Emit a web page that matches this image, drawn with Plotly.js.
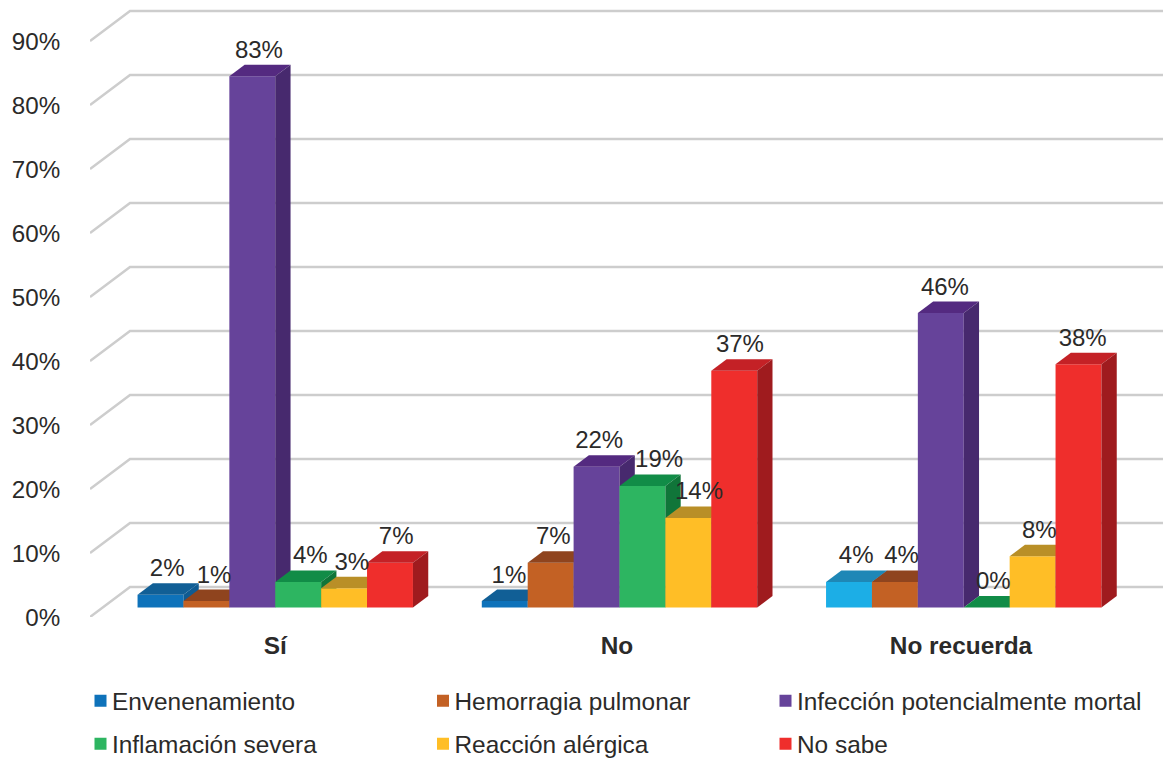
<!DOCTYPE html>
<html><head><meta charset="utf-8">
<script src="https://cdn.plot.ly/plotly-3.0.1.min.js"></script>
<style>html,body{margin:0;padding:0;background:#fff}#c{width:1163px;height:758px}</style></head>
<body><div id="c"></div>
<script>
const categories = ["Sí", "No", "No recuerda"];
const envenenamiento = [2, 1, 4];
const hemorragia = [1, 7, 4];
const infeccion = [83, 22, 46];
const inflamacion = [4, 19, 0];
const reaccion = [3, 14, 8];
const noSabe = [7, 37, 38];
const seriesNames = ["Envenenamiento", "Hemorragia pulmonar", "Infección potencialmente mortal", "Inflamación severa", "Reacción alérgica", "No sabe"];
const seriesValues = [envenenamiento, hemorragia, infeccion, inflamacion, reaccion, noSabe];
const frontColors = [["#0E72BA","#0E72BA","#1CAEE6"],["#C36124","#C36124","#C36124"],["#66439A","#66439A","#66439A"],["#2DB561","#2DB561","#2DB561"],["#FFBE26","#FFBE26","#FFBE26"],["#EF2E2C","#EF2E2C","#EF2E2C"]];
const topColors = [["#115F96","#115F96","#1E87B6"],["#8F441E","#8F441E","#8F441E"],["#542A80","#542A80","#542A80"],["#118C47","#118C47","#118C47"],["#B98F27","#B98F27","#B98F27"],["#C42126","#C42126","#C42126"]];
const sideColors = ["#0F5B92","#7D3B1A","#47296E","#107539","#A07B20","#9F1B1E"];
const yTicks = [0,10,20,30,40,50,60,70,80,90];
// hand-placed data label offsets (px) as in the reference
const labelNudge = [[-1,-3.5,-0.5],[0,-5,-1],[-1,-5,-3.5],[4.5,9,-1],[0,3,-1],[-1.5,-2,-3.5]];

// geometry: px per unit
const pxX = 344.25, pxY = 6.4, left = 90, right = 1163, floorPx = 617, topPx = 5, firstCenterPx = 275.25;
const xMin = (left-firstCenterPx)/pxX, xMax = (right-firstCenterPx)/pxX, yMax = (floorPx-topPx)/pxY;
const barW = 45.9/pxX, depthX = 15.3/pxX, depthY = 11.5/pxY, floorY = 9.5/pxY;
const wallX = 40/pxX, wallY = 30/pxY;
const textColor = "#2B2A29", font = "Liberation Sans, Arial, sans-serif";

const traces = [];
yTicks.forEach(t => traces.push({type:"scatter",mode:"lines",x:[xMin,xMin+wallX,xMax],y:[t,t+wallY,t+wallY],
  line:{color:"#CDCDCD",width:2.5},hoverinfo:"skip",showlegend:false,cliponaxis:false,xaxis:"x",yaxis:"y"}));

const labelX=[],labelY=[],labelT=[];
seriesValues.forEach((vals,s)=>{
  const xa="x"+(s+2), ya="y"+(s+2);
  const off = -3*barW + s*barW;
  traces.push({type:"bar",name:seriesNames[s],x:categories.map((_,i)=>i),y:vals,base:floorY,width:barW,offset:off,
    marker:{color:frontColors[s],line:{width:0}},xaxis:xa,yaxis:ya,legend:s===0?"legend":"legend"+(s+1),hoverinfo:"skip"});
  vals.forEach((v,i)=>{
    const xl=i+off,xr=xl+barW,t=floorY+v;
    traces.push({type:"scatter",mode:"lines",fill:"toself",fillcolor:topColors[s][i],line:{width:0,color:topColors[s][i]},
      x:[xl,xr,xr+depthX,xl+depthX,xl],y:[t,t,t+depthY,t+depthY,t],xaxis:xa,yaxis:ya,showlegend:false,hoverinfo:"skip"});
    traces.push({type:"scatter",mode:"lines",fill:"toself",fillcolor:sideColors[s],line:{width:0,color:sideColors[s]},
      x:[xr,xr+depthX,xr+depthX,xr,xr],y:[floorY,floorY+depthY,t+depthY,t,floorY],xaxis:xa,yaxis:ya,showlegend:false,hoverinfo:"skip"});
    labelX.push(xl+barW/2+depthX/2+labelNudge[s][i]/pxX);labelY.push(t+depthY+1/pxY);labelT.push(v+"%");
  });
});
traces.push({type:"scatter",mode:"text",x:labelX,y:labelY,text:labelT,textposition:"top center",
  textfont:{family:font,size:24,color:textColor},xaxis:"x8",yaxis:"y8",showlegend:false,hoverinfo:"skip",cliponaxis:false});

const layout = {
  width:1163,height:758,paper_bgcolor:"#fff",plot_bgcolor:"#fff",showlegend:true,
  margin:{l:left,r:1163-right,t:topPx,b:758-floorPx,autoexpand:false},
  font:{family:font,size:24,color:textColor},
  xaxis:{range:[xMin,xMax],tickmode:"array",tickvals:[0,0.9927,1.992],ticktext:categories.map(c=>"<b>"+c+"</b>"),showgrid:false,zeroline:false,showline:false,
    ticks:"outside",ticklen:7,tickcolor:"rgba(0,0,0,0)",tickfont:{family:font,size:24.4,color:textColor}},
  yaxis:{range:[0,yMax],tickmode:"array",tickvals:yTicks,ticktext:yTicks.map(t=>t+"%"),showgrid:false,zeroline:false,showline:false,
    ticks:"outside",ticklen:24,tickcolor:"rgba(0,0,0,0)",ticklabelshift:1,tickfont:{family:font,size:24.2,color:textColor}},
  barmode:"overlay"
};
const legendCols = [72,414.5,757], legendRows = [701,744];
seriesNames.forEach((_,s)=>{
  const key = s===0?"legend":"legend"+(s+1);
  layout[key]={orientation:"v",x:(legendCols[s%3]-left)/(right-left),xanchor:"left",y:(floorPx-legendRows[Math.floor(s/3)])/(floorPx-topPx),yanchor:"middle",
    bgcolor:"rgba(0,0,0,0)",font:{family:font,size:24.4,color:textColor},itemclick:false,itemdoubleclick:false};
});
for(let k=2;k<=8;k++){
  layout["xaxis"+k]={range:[xMin,xMax],overlaying:"x",visible:false,fixedrange:true};
  layout["yaxis"+k]={range:[0,yMax],overlaying:"y",visible:false,fixedrange:true};
}
Plotly.newPlot("c",traces,layout,{displayModeBar:false,staticPlot:true}).then(()=>{
  document.querySelectorAll(".legendsymbols").forEach(n=>n.setAttribute("transform","translate(8.5,0)"));
});
</script></body></html>
